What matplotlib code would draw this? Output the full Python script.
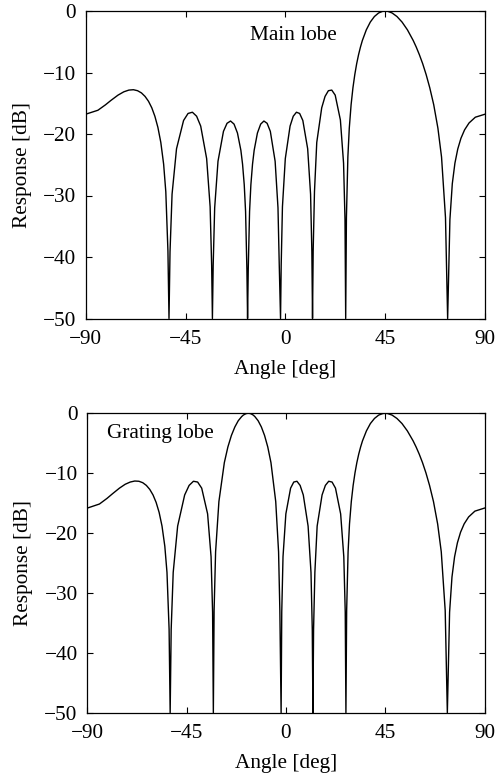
import numpy as np
import matplotlib.pyplot as plt

# Angle samples [deg], shared by both patterns
angle = [
    -90.00, -84.50, -81.07, -78.63, -75.44, -72.82, -70.54, -68.49, -66.62, -64.87,
    -63.24, -61.69, -60.21, -58.81, -57.45, -56.14, -54.87, -53.89, -52.93, -52.45,
    -51.99, -51.07, -49.06, -45.88, -43.86, -41.90, -40.00, -38.16, -35.48, -33.91,
    -33.22, -32.88, -32.54, -31.86, -30.36, -27.90, -26.29, -24.70, -23.13, -21.59,
    -20.05, -19.29, -18.53, -17.93, -17.33, -17.03, -16.73, -16.13, -15.54, -14.80,
    -14.06, -12.59, -11.12, -9.67, -8.22, -6.77, -4.61, -3.32, -2.74, -2.17,
    -1.88, -1.31, -0.02, 2.13, 3.56, 5.00, 6.44, 7.88, 10.06, 11.37,
    11.95, 12.25, 12.54, 13.13, 14.16, 16.39, 17.89, 19.40, 20.92, 22.47,
    24.81, 26.24, 26.89, 27.20, 27.53, 28.18, 28.82, 29.64, 30.47, 31.31,
    32.15, 33.00, 33.86, 34.72, 36.49, 38.29, 40.14, 42.04, 43.99, 45.00,
    46.03, 48.12, 50.32, 52.61, 55.04, 57.63, 59.00, 60.42, 61.91, 63.46,
    65.10, 66.88, 68.77, 70.41, 72.19, 73.16, 74.18, 75.26, 76.44, 77.72,
    79.15, 80.79, 82.80, 85.64, 90.00,
]

# Response with the main lobe only [dB]
main_lobe = [
    -16.78, -16.14, -15.25, -14.54, -13.68, -13.14, -12.86, -12.80, -12.96, -13.32,
    -13.89, -14.68, -15.74, -17.12, -18.93, -21.37, -24.90, -29.38, -39.02, -50.00,
    -39.16, -29.79, -22.40, -17.80, -16.66, -16.46, -17.11, -18.71, -24.00, -31.83,
    -41.39, -50.00, -41.44, -32.00, -24.43, -19.57, -18.26, -17.89, -18.39, -19.84,
    -22.65, -24.91, -28.26, -32.60, -42.10, -50.00, -42.10, -32.60, -28.25, -24.91,
    -22.65, -19.84, -18.39, -17.89, -18.26, -19.57, -24.43, -32.00, -41.44, -50.00,
    -41.39, -31.83, -24.00, -18.71, -17.11, -16.46, -16.66, -17.80, -22.40, -29.79,
    -39.16, -50.00, -39.02, -29.38, -21.37, -15.74, -13.89, -12.96, -12.86, -13.68,
    -17.72, -24.74, -33.92, -50.00, -33.59, -23.75, -19.05, -15.23, -12.48, -10.33,
    -8.57, -7.11, -5.86, -4.79, -3.07, -1.80, -0.90, -0.32, -0.03, 0.00,
    -0.03, -0.32, -0.90, -1.80, -3.07, -4.79, -5.86, -7.11, -8.57, -10.33,
    -12.48, -15.23, -19.05, -23.75, -33.59, -50.00, -33.92, -28.08, -24.74, -22.44,
    -20.70, -19.33, -18.21, -17.27, -16.78,
]

# Response with a grating lobe [dB]
grating_lobe = [
    -15.83, -15.15, -14.21, -13.45, -12.50, -11.85, -11.48, -11.31, -11.35, -11.59,
    -12.04, -12.71, -13.64, -14.88, -16.55, -18.84, -22.21, -26.57, -36.08, -50.00,
    -36.08, -26.57, -18.84, -13.64, -12.04, -11.35, -11.48, -12.50, -16.80, -23.96,
    -33.21, -50.00, -32.94, -23.14, -14.74, -8.24, -5.62, -3.70, -2.28, -1.24,
    -0.55, -0.30, -0.14, -0.04, 0.00, 0.00, 0.00, -0.04, -0.14, -0.30,
    -0.55, -1.24, -2.28, -3.70, -5.62, -8.24, -14.74, -23.14, -32.94, -50.00,
    -33.21, -23.96, -16.80, -12.50, -11.48, -11.35, -12.04, -13.64, -18.84, -26.57,
    -36.08, -50.00, -36.08, -26.57, -18.84, -13.64, -12.04, -11.35, -11.48, -12.50,
    -16.80, -23.96, -33.21, -50.00, -32.94, -23.14, -18.49, -14.74, -12.05, -9.95,
    -8.24, -6.82, -5.62, -4.59, -2.94, -1.71, -0.86, -0.30, -0.03, 0.00,
    -0.03, -0.30, -0.86, -1.71, -2.94, -4.59, -5.62, -6.82, -8.24, -9.95,
    -12.05, -14.74, -18.49, -23.14, -32.94, -50.00, -33.21, -27.34, -23.96, -21.63,
    -19.86, -18.46, -17.31, -16.34, -15.83,
]

x_ticks = [-90, -45, 0, 45, 90]
y_ticks = [0, -10, -20, -30, -40, -50]

FS = 15.3


def style_axes(ax):
    ax.set_xlim(-90, 90)
    ax.set_ylim(-50, 0)
    ax.set_xticks(x_ticks)
    ax.set_yticks(y_ticks)
    ax.tick_params(direction='in', length=4, width=0.8, top=True, right=True,
                   labelsize=FS)
    ax.tick_params(axis='x', pad=8)
    ax.tick_params(axis='y', pad=7)
    for s in ax.spines.values():
        s.set_linewidth(0.9)
    ax.set_xlabel("Angle [deg]", fontsize=FS, labelpad=8)
    ax.set_ylabel("Response [dB]", fontsize=FS, labelpad=8)


def main():
    plt.rcParams['font.family'] = ['Liberation Serif', 'DejaVu Serif']

    fig = plt.figure(figsize=(4.95, 7.76), dpi=100)
    ax1 = fig.add_axes([85.7 / 495, 1 - 318.5 / 776, 399.3 / 495, 307.5 / 776])
    ax2 = fig.add_axes([87.3 / 495, 1 - 712.7 / 776, 397.2 / 495, 299.4 / 776])

    ax1.plot(angle, main_lobe, color='k', lw=1.0)
    ax1.text(-16, -4, "Main lobe", fontsize=FS, va='center', ha='left')
    style_axes(ax1)

    ax2.plot(angle, grating_lobe, color='k', lw=1.0)
    ax2.text(-81, -3.3, "Grating lobe", fontsize=FS, va='center', ha='left')
    style_axes(ax2)

    fig.savefig("out.png", dpi=100)


if __name__ == "__main__":
    main()
